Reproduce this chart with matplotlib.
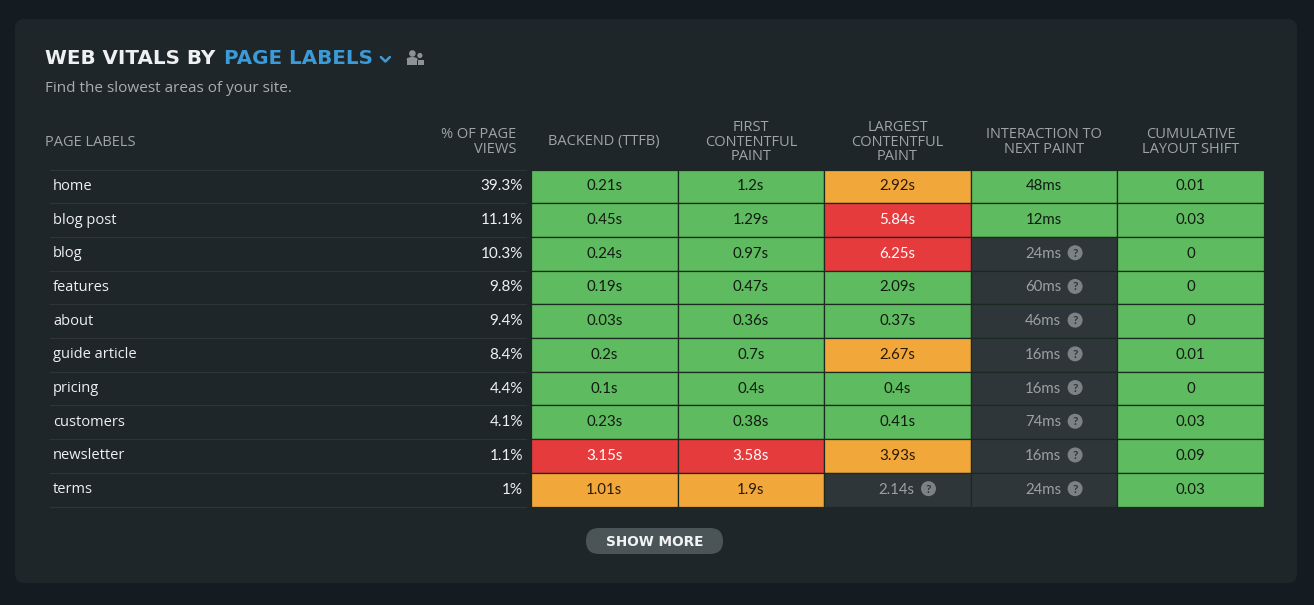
import matplotlib
matplotlib.use("Agg")
import matplotlib.pyplot as plt
from matplotlib.patches import FancyBboxPatch, Rectangle, Circle, Ellipse

# ---------------- data ----------------
page_labels = ["home", "blog post", "blog", "features", "about", "guide article",
               "pricing", "customers", "newsletter", "terms"]
pct_views = ["39.3%", "11.1%", "10.3%", "9.8%", "9.4%", "8.4%", "4.4%", "4.1%", "1.1%", "1%"]
metric_headers = ["BACKEND (TTFB)", "FIRST\nCONTENTFUL\nPAINT", "LARGEST\nCONTENTFUL\nPAINT",
                  "INTERACTION TO\nNEXT PAINT", "CUMULATIVE\nLAYOUT SHIFT"]
backend = ["0.21s", "0.45s", "0.24s", "0.19s", "0.03s", "0.2s", "0.1s", "0.23s", "3.15s", "1.01s"]
fcp = ["1.2s", "1.29s", "0.97s", "0.47s", "0.36s", "0.7s", "0.4s", "0.38s", "3.58s", "1.9s"]
lcp = ["2.92s", "5.84s", "6.25s", "2.09s", "0.37s", "2.67s", "0.4s", "0.41s", "3.93s", "2.14s"]
inp = ["48ms", "12ms", "24ms", "60ms", "46ms", "16ms", "16ms", "74ms", "16ms", "24ms"]
cls = ["0.01", "0.03", "0", "0", "0", "0.01", "0", "0.03", "0.09", "0.03"]
# status: g = good, o = needs improvement, r = poor, n = not enough data
backend_status = ["g", "g", "g", "g", "g", "g", "g", "g", "r", "o"]
fcp_status = ["g", "g", "g", "g", "g", "g", "g", "g", "r", "o"]
lcp_status = ["o", "r", "r", "g", "g", "o", "g", "g", "o", "n"]
inp_status = ["g", "g", "n", "n", "n", "n", "n", "n", "n", "n"]
cls_status = ["g", "g", "g", "g", "g", "g", "g", "g", "g", "g"]

metric_values = [backend, fcp, lcp, inp, cls]
metric_status = [backend_status, fcp_status, lcp_status, inp_status, cls_status]

# ---------------- style ----------------
BG = "#141b21"
CARD = "#1f2629"
FILL = {"g": "#5fbb5f", "o": "#f2a73b", "r": "#e63b3d", "n": "#2f3639"}
TXT = {"g": "#111a11", "o": "#2a1a05", "r": "#ffffff", "n": "#9aa0a3"}
HEAD = "#9ea4a7"
WHITE = "#eef0f1"
BLUE = "#3b9bd8"
FONT = ["Open Sans", "DejaVu Sans"]
NUMFONT = ["Lato", "DejaVu Sans"]
BOLDFONT = ["DejaVu Sans"]

W, H = 1314, 605
fig = plt.figure(figsize=(W / 100, H / 100), dpi=100, facecolor=BG)
ax = fig.add_axes([0, 0, 1, 1])
ax.set_xlim(0, W)
ax.set_ylim(H, 0)
ax.axis("off")
ax.set_facecolor(BG)

# card
ax.add_patch(FancyBboxPatch((15, 19), 1282, 564, boxstyle="round,pad=0,rounding_size=9",
                            fc=CARD, ec="none", zorder=0))

# title
renderer = fig.canvas.get_renderer()
t1 = ax.text(45, 59, "WEB VITALS BY", color=WHITE, fontsize=14.3, fontweight="bold",
             family=BOLDFONT, va="center", ha="left")
bb = t1.get_window_extent(renderer)
x2 = bb.x1 + 9
t2 = ax.text(x2, 59, "PAGE LABELS", color=BLUE, fontsize=14.3, fontweight="bold",
             family=BOLDFONT, va="center", ha="left")
bb2 = t2.get_window_extent(renderer)
cx = bb2.x1 + 12
ax.plot([cx - 4.5, cx, cx + 4.5], [57, 61.5, 57], color=BLUE, lw=1.8, solid_capstyle="round")
# people icon
ix = cx + 20
icon_c = "#8c9295"
ax.add_patch(Circle((ix + 7, 53.5), 3.3, fc=icon_c, ec="none"))
ax.add_patch(Rectangle((ix + 1.5, 58), 10.5, 6.5, fc=icon_c, ec="none"))
ax.add_patch(Ellipse((ix + 6.8, 59.5), 11, 5, fc=icon_c, ec="none"))
ax.add_patch(Circle((ix + 14.5, 55.5), 2.6, fc=icon_c, ec="none"))
ax.add_patch(Rectangle((ix + 12.5, 59.5), 6, 5, fc=icon_c, ec="none"))

ax.text(45, 89, "Find the slowest areas of your site.", color="#a7adb0", fontsize=11.0,
        family=FONT, va="center", ha="left")

# layout
col_left = 531
col_w = 146.6
row_top = 169.5
row_h = 33.7
n_rows = len(page_labels)

# headers
hy = 142
HS = 10.5
ax.text(45, hy, "PAGE LABELS", color=HEAD, fontsize=HS, family=FONT, va="center", ha="left")
ax.text(516, hy, "% OF PAGE\nVIEWS", color=HEAD, fontsize=HS, family=FONT, va="center",
        ha="right", multialignment="right", linespacing=0.98)
for j, h in enumerate(metric_headers):
    ax.text(col_left + col_w * (j + 0.5), hy, h, color=HEAD, fontsize=HS, family=FONT,
            va="center", ha="center", multialignment="center", linespacing=0.98)

# rows
for i, (lab, pv) in enumerate(zip(page_labels, pct_views)):
    yc = row_top + row_h * (i + 0.5)
    ytop = row_top + row_h * i
    ax.plot([50, 526], [ytop, ytop], color="#2d3538", lw=0.9, zorder=1)
    ax.text(53, yc, lab, color=WHITE, fontsize=10.5, family=FONT, va="center", ha="left")
    ax.text(523, yc, pv, color=WHITE, fontsize=11.0, family=NUMFONT, va="center", ha="right")
ax.plot([50, 526], [row_top + row_h * n_rows] * 2, color="#2d3538", lw=0.9, zorder=1)

# cells
for j, (vals, stats) in enumerate(zip(metric_values, metric_status)):
    x0 = col_left + col_w * j
    for i, (v, s) in enumerate(zip(vals, stats)):
        y0 = row_top + row_h * i
        ax.add_patch(Rectangle((x0, y0), col_w, row_h, fc=FILL[s], ec="#1a2a1e", lw=0.9, zorder=2))
        xc = x0 + col_w / 2
        yc = y0 + row_h / 2
        if s == "n":
            ax.text(xc + 17, yc, v, color=TXT[s], fontsize=10.8, family=NUMFONT,
                    va="center", ha="right", zorder=3)
            ax.add_patch(Circle((xc + 31, yc - 1), 7.5, fc="#7b8184", ec="none", zorder=3))
            ax.text(xc + 31, yc - 0.5, "?", color="#2f3639", fontsize=8.5, fontweight="bold",
                    family=NUMFONT, va="center", ha="center", zorder=4)
        else:
            ax.text(xc, yc, v, color=TXT[s], fontsize=10.8, family=NUMFONT,
                    va="center", ha="center", zorder=3)

# show more button
ax.add_patch(FancyBboxPatch((586, 528), 137, 26, boxstyle="round,pad=0,rounding_size=13",
                            fc="#4b5558", ec="none", zorder=2))
ax.text(654.5, 541.5, "SHOW MORE", color="#f2f3f4", fontsize=9.8, fontweight="bold",
        family=BOLDFONT, va="center", ha="center", zorder=3)

fig.savefig("out.png", dpi=100, facecolor=BG)
